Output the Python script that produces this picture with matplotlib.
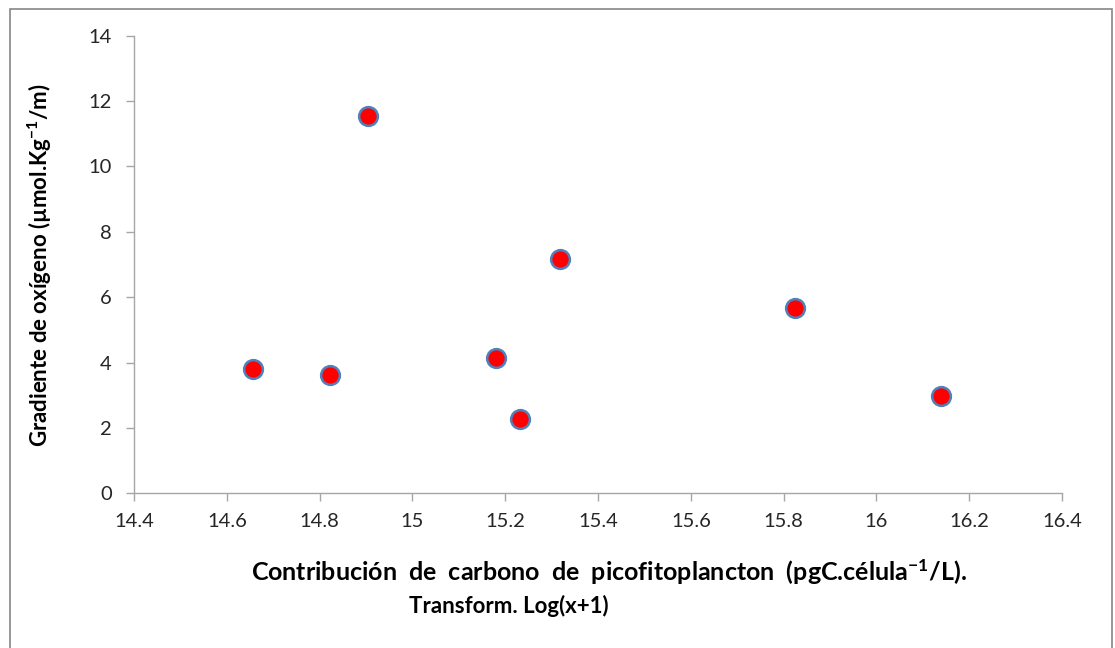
import matplotlib
matplotlib.use("Agg")
import matplotlib.pyplot as plt
from matplotlib.patches import Rectangle

# data
carbono = [14.657, 14.822, 14.905, 15.180, 15.232, 15.317, 15.825, 16.139]
oxigeno = [3.81, 3.63, 11.54, 4.15, 2.27, 7.17, 5.68, 2.98]

x_ticks = [14.4, 14.6, 14.8, 15, 15.2, 15.4, 15.6, 15.8, 16, 16.2, 16.4]
x_tick_labels = ["14.4", "14.6", "14.8", "15", "15.2", "15.4", "15.6", "15.8", "16", "16.2", "16.4"]
y_ticks = [0, 2, 4, 6, 8, 10, 12, 14]

plt.rcParams['font.family'] = ['Lato', 'DejaVu Sans']
plt.rcParams['mathtext.default'] = 'regular'

fig = plt.figure(figsize=(11.15, 6.48), dpi=100)
ax = fig.add_axes([0.1202, 0.2387, 0.8323, 0.7062])

# outer chart frame
fig.patches.append(Rectangle((10 / 1115, -0.05), 1102 / 1115, 1 - 9 / 648 + 0.05,
                             transform=fig.transFigure, fill=False,
                             edgecolor="#868686", linewidth=1.2))

ax.plot(carbono, oxigeno, linestyle="none", marker="o", markersize=13.5,
        markerfacecolor="#ff0000", markeredgecolor="#4f81bd", markeredgewidth=1.8)

ax.set_xlim(14.4, 16.4)
ax.set_ylim(0, 14)
ax.set_xticks(x_ticks)
ax.set_xticklabels(x_tick_labels)
ax.set_yticks(y_ticks)

for side in ["top", "right"]:
    ax.spines[side].set_visible(False)
for side in ["left", "bottom"]:
    ax.spines[side].set_color("#a6a6a6")
    ax.spines[side].set_linewidth(1.0)

ax.tick_params(axis="both", direction="out", length=6, width=1.0, color="#a6a6a6",
               labelsize=14.5, labelcolor="#262626")
ax.tick_params(axis="x", pad=8)
ax.tick_params(axis="y", pad=10)

# axis titles
fig.text(40 / 1115, 1 - 265 / 648, "Gradiente de oxígeno (µmol.Kg$^{-1}$/m)",
         rotation=90, ha="center", va="center", fontsize=16, fontweight="bold", color="black")
fig.text(609 / 1115, 1 - 572 / 648,
         "Contribución  de  carbono  de  picofitoplancton  (pgC.célula$^{-1}$/L).",
         ha="center", va="center", fontsize=18, fontweight="bold", color="black")
fig.text(509 / 1115, 1 - 606 / 648, "Transform. Log(x+1)",
         ha="center", va="center", fontsize=16, fontweight="bold", color="black")

fig.savefig("out.png", dpi=100)
